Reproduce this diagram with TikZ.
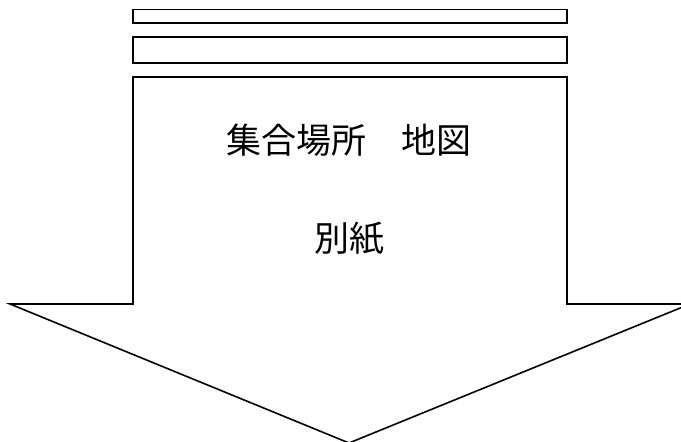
\documentclass[tikz,border=0pt]{standalone}
\usepackage{fontspec}
\newfontfamily\jpfont{Noto Sans CJK JP}

\begin{document}
\begin{tikzpicture}[x=1pt,y=-1pt,line width=1.6pt,font=\jpfont\fontsize{35}{42}\selectfont]

\useasboundingbox (0,0) rectangle (681,442);
\clip (0,0) rectangle (681,442);

\draw (133,9.5) rectangle (567,22.7);
\draw (133,36.7) rectangle (567,62.7);
\draw[line join=miter] (133,77) -- (567,77) -- (567,304) -- (690,304) -- (349,443) -- (10,304) -- (133,304) -- cycle;

\node (place) at (349,140) {集合場所　地図};
\node (sheet) at (349,239) {別紙};

\end{tikzpicture}
\end{document}
